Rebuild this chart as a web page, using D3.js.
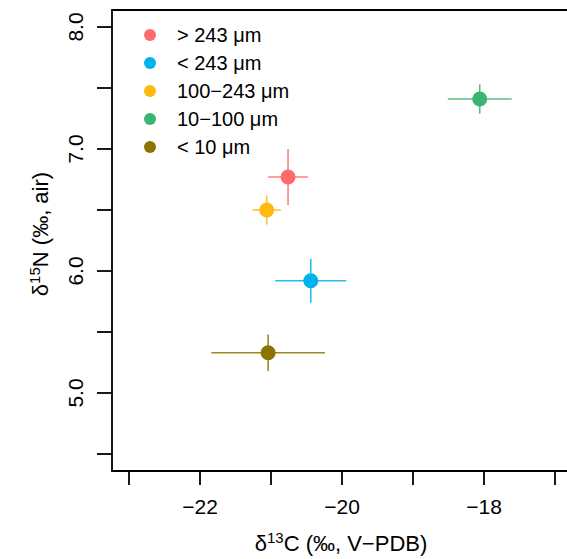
<!DOCTYPE html>
<html>
<head>
<meta charset="utf-8">
<script src="https://cdn.jsdelivr.net/npm/d3@7"></script>
<style>
  body { margin: 0; background: #fff; }
  svg { font-family: "Liberation Sans", Arial, Helvetica, sans-serif; }
</style>
</head>
<body>
<div id="chart"></div>
<script>
// Size fractions and their isotope values (mean +/- error)
const groups = ['> 243 μm', '< 243 μm', '100−243 μm', '10−100 μm', '< 10 μm'];
const colors = ['#FF6A6A', '#00B2EE', '#FFB90F', '#3CB371', '#8B7500'];
const d13C = [-20.76, -20.44, -21.06, -18.06, -21.04];
const d13Cerr = [0.28, 0.50, 0.20, 0.45, 0.80];
const d15N = [6.77, 5.92, 6.50, 7.41, 5.33];
const d15Nerr = [0.23, 0.18, 0.12, 0.12, 0.15];

const xTicks = [-23, -22, -21, -20, -19, -18, -17];
const xLabels = [-22, -20, -18];
const yTicks = [4.5, 5.0, 5.5, 6.0, 6.5, 7.0, 7.5, 8.0];
const yLabels = [5.0, 6.0, 7.0, 8.0];

const data = groups.map((g, i) => ({
    group: g, color: colors[i],
    x: d13C[i], xe: d13Cerr[i], y: d15N[i], ye: d15Nerr[i]
}));

const width = 567, height = 559;
// plot box edges
const box = { left: 112, top: 10, bottom: 471, right: 580 };

const svg = d3.select('#chart')
    .append('svg')
    .attr('width', width)
    .attr('height', height);

// Scales
const x = d3.scaleLinear().domain([-23, -17]).range([129, 555]);
const y = d3.scaleLinear().domain([4.5, 8.0]).range([454, 27]);

// Box (left, top, bottom; right side runs off the page)
svg.append('path')
    .attr('d', `M${box.right},${box.top}H${box.left}V${box.bottom}H${box.right}`)
    .attr('fill', 'none')
    .attr('stroke', '#000')
    .attr('stroke-width', 1.8);

// X axis ticks
const fmtMinus = v => String(v).replace('-', '−');
svg.append('g')
    .selectAll('line')
    .data(xTicks)
    .enter()
    .append('line')
    .attr('x1', d => x(d)).attr('x2', d => x(d))
    .attr('y1', box.bottom).attr('y2', box.bottom + 14)
    .attr('stroke', '#000')
    .attr('stroke-width', 1.8);

svg.append('g')
    .selectAll('text')
    .data(xLabels)
    .enter()
    .append('text')
    .attr('x', d => x(d))
    .attr('y', 514)
    .attr('text-anchor', 'middle')
    .attr('font-size', 21)
    .text(d => fmtMinus(d));

// Y axis ticks
svg.append('g')
    .selectAll('line')
    .data(yTicks)
    .enter()
    .append('line')
    .attr('x1', box.left - 15).attr('x2', box.left)
    .attr('y1', d => y(d)).attr('y2', d => y(d))
    .attr('stroke', '#000')
    .attr('stroke-width', 1.8);

svg.append('g')
    .selectAll('text')
    .data(yLabels)
    .enter()
    .append('text')
    .attr('transform', d => `translate(83,${y(d)}) rotate(-90)`)
    .attr('text-anchor', 'middle')
    .attr('font-size', 21)
    .text(d => d.toFixed(1));

// Axis titles
const xt = svg.append('text')
    .attr('x', 341)
    .attr('y', 551)
    .attr('text-anchor', 'middle')
    .attr('font-size', 22);
xt.append('tspan').text('δ');
xt.append('tspan').attr('font-size', 15).attr('dy', -8).text('13');
xt.append('tspan').attr('dy', 8).text('C (‰, V−PDB)');

const yt = svg.append('text')
    .attr('transform', 'translate(48,234) rotate(-90)')
    .attr('text-anchor', 'middle')
    .attr('font-size', 22);
yt.append('tspan').text('δ');
yt.append('tspan').attr('font-size', 15).attr('dy', -8).text('15');
yt.append('tspan').attr('dy', 8).text('N (‰, air)');

// Error bars
const bars = svg.append('g');
bars.selectAll('.xerr')
    .data(data)
    .enter()
    .append('line')
    .attr('class', 'xerr')
    .attr('x1', d => x(d.x - d.xe)).attr('x2', d => x(d.x + d.xe))
    .attr('y1', d => y(d.y)).attr('y2', d => y(d.y))
    .attr('stroke', d => d.color)
    .attr('stroke-opacity', 0.85)
    .attr('stroke-width', 1.6);
bars.selectAll('.yerr')
    .data(data)
    .enter()
    .append('line')
    .attr('class', 'yerr')
    .attr('x1', d => x(d.x)).attr('x2', d => x(d.x))
    .attr('y1', d => y(d.y - d.ye)).attr('y2', d => y(d.y + d.ye))
    .attr('stroke', d => d.color)
    .attr('stroke-opacity', 0.85)
    .attr('stroke-width', 1.6);

// Points
svg.append('g')
    .selectAll('circle')
    .data(data)
    .enter()
    .append('circle')
    .attr('cx', d => x(d.x))
    .attr('cy', d => y(d.y))
    .attr('r', 7.5)
    .attr('fill', d => d.color);

// Legend
const legend = svg.append('g')
    .selectAll('g')
    .data(data)
    .enter()
    .append('g')
    .attr('transform', (d, i) => `translate(150,${35 + i * 28})`);
legend.append('circle')
    .attr('r', 6)
    .attr('fill', d => d.color);
legend.append('text')
    .attr('x', 27)
    .attr('y', 7)
    .attr('font-size', 20)
    .text(d => d.group);
</script>
</body>
</html>
